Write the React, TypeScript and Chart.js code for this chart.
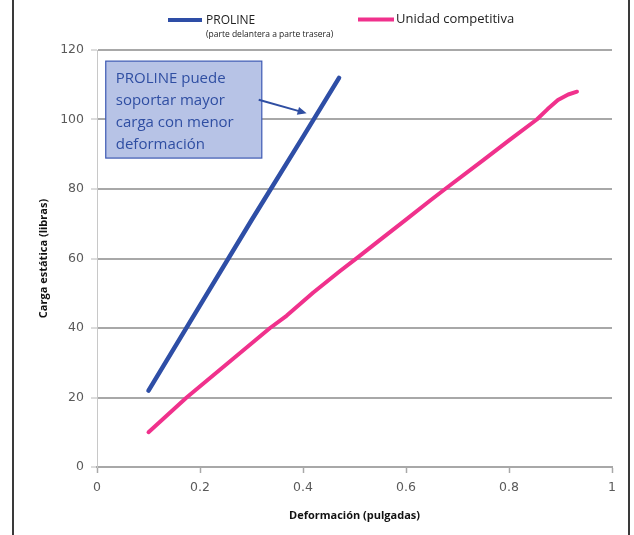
import React, { useEffect, useRef } from "react";
import { Chart, registerables } from "chart.js";

Chart.register(...registerables);

const prolineX = [0.1, 0.2, 0.3, 0.4, 0.47];
const prolineY = [22, 46.5, 71, 95, 112];

const competX = [0.1, 0.174, 0.255, 0.336, 0.368, 0.42, 0.472, 0.507, 0.549, 0.6, 0.647, 0.676, 0.75, 0.8, 0.854, 0.875, 0.895, 0.915, 0.932];
const competY = [10, 20, 30, 40, 43.5, 50.2, 56.4, 60.4, 65.3, 71.2, 76.7, 80, 88.3, 94, 100, 103, 105.6, 107.2, 108];

const xTickValues = [0, 0.2, 0.4, 0.6, 0.8, 1];
const seriesNames = ["PROLINE", "Unidad competitiva"];
const legendSub = "(parte delantera a parte trasera)";
const noteLines = ["PROLINE puede", "soportar mayor", "carga con menor", "deformación"];
const xTitle = "Deformación (pulgadas)";
const yTitle = "Carga estática (libras)";

const BLUE = "#2e4ea6";
const PINK = "#f0318c";
const GRID = "#a8a8a8";

const decor = {
  id: "decor",
  afterDraw(chart: any) {
    const ctx = chart.ctx;
    const xs = chart.scales.x;
    const ys = chart.scales.y;
    ctx.save();
    // frame lines
    ctx.strokeStyle = "#3a3a3a";
    ctx.lineWidth = 2;
    ctx.beginPath();
    ctx.moveTo(13, 0);
    ctx.lineTo(13, 535);
    ctx.moveTo(629, 0);
    ctx.lineTo(629, 535);
    ctx.stroke();

    // legend
    ctx.lineCap = "butt";
    ctx.lineWidth = 4;
    ctx.strokeStyle = BLUE;
    ctx.beginPath();
    ctx.moveTo(168, 20);
    ctx.lineTo(202, 20);
    ctx.stroke();
    ctx.strokeStyle = PINK;
    ctx.beginPath();
    ctx.moveTo(358, 19.5);
    ctx.lineTo(394, 19.5);
    ctx.stroke();
    ctx.fillStyle = "#222";
    ctx.textBaseline = "middle";
    ctx.textAlign = "left";
    ctx.font = "12px 'Open Sans', sans-serif";
    ctx.fillText(seriesNames[0], 206, 21);
    ctx.font = "8.5px 'Open Sans', sans-serif";
    ctx.fillText(legendSub, 206, 35);
    ctx.font = "13px 'Open Sans', sans-serif";
    ctx.fillText(seriesNames[1], 396, 19.5);

    // note box anchored in data units
    const bx0 = xs.getPixelForValue(0.017);
    const bx1 = xs.getPixelForValue(0.32);
    const by0 = ys.getPixelForValue(116.8);
    const by1 = ys.getPixelForValue(88.9);
    ctx.fillStyle = "#b7c3e6";
    ctx.fillRect(bx0, by0, bx1 - bx0, by1 - by0);
    ctx.strokeStyle = "#3d59b3";
    ctx.lineWidth = 1.2;
    ctx.strokeRect(bx0, by0, bx1 - bx0, by1 - by0);
    ctx.fillStyle = "#2f4ea2";
    ctx.font = "15px 'Open Sans', sans-serif";
    noteLines.forEach((t, i) => {
      ctx.fillText(t, bx0 + 10, by0 + 18 + i * 22);
    });

    // arrow
    const ax0 = xs.getPixelForValue(0.314);
    const ay0 = ys.getPixelForValue(105.7);
    const ax1 = xs.getPixelForValue(0.407);
    const ay1 = ys.getPixelForValue(101.8);
    const ang = Math.atan2(ay1 - ay0, ax1 - ax0);
    ctx.strokeStyle = "#2f4ea2";
    ctx.lineWidth = 2;
    ctx.beginPath();
    ctx.moveTo(ax0, ay0);
    ctx.lineTo(ax1 - 6 * Math.cos(ang), ay1 - 6 * Math.sin(ang));
    ctx.stroke();
    ctx.fillStyle = "#2f4ea2";
    ctx.beginPath();
    ctx.moveTo(ax1, ay1);
    ctx.lineTo(ax1 - 9 * Math.cos(ang) + 4 * Math.sin(ang), ay1 - 9 * Math.sin(ang) - 4 * Math.cos(ang));
    ctx.lineTo(ax1 - 9 * Math.cos(ang) - 4 * Math.sin(ang), ay1 - 9 * Math.sin(ang) + 4 * Math.cos(ang));
    ctx.closePath();
    ctx.fill();
    ctx.restore();
  },
};

export default function App() {
  const ref = useRef<HTMLCanvasElement>(null);
  useEffect(() => {
    const toPts = (xs: number[], ys: number[]) => xs.map((x, i) => ({ x, y: ys[i] }));
    const chart = new Chart(ref.current!, {
      type: "scatter",
      data: {
        datasets: [
          {
            label: seriesNames[0],
            data: toPts(prolineX, prolineY),
            showLine: true,
            borderColor: BLUE,
            backgroundColor: BLUE,
            borderWidth: 4.5,
            pointRadius: 0,
            tension: 0,
            borderCapStyle: "round",
          },
          {
            label: seriesNames[1],
            data: toPts(competX, competY),
            showLine: true,
            borderColor: PINK,
            backgroundColor: PINK,
            borderWidth: 4,
            pointRadius: 0,
            tension: 0,
            borderCapStyle: "round",
            borderJoinStyle: "round",
          },
        ],
      },
      options: {
        animation: false,
        responsive: false,
        devicePixelRatio: 1,
        layout: { padding: { left: 0, right: 22, top: 50, bottom: 0 } },
        plugins: { legend: { display: false }, tooltip: { enabled: false } },
        scales: {
          x: {
            type: "linear",
            min: 0,
            max: 1,
            afterFit: (s: any) => {
              s.height = 68;
            },
            afterBuildTicks: (s: any) => {
              s.ticks = xTickValues.map((v) => ({ value: v }));
            },
            ticks: {
              color: "#5a5a5a",
              font: { family: "'DejaVu Sans', sans-serif", size: 12.5 },
              padding: 7,
              callback: (v: any) => String(Math.round(Number(v) * 10) / 10),
            },
            grid: {
              drawOnChartArea: false,
              drawTicks: true,
              tickLength: 6,
              tickColor: GRID,
              tickWidth: 1.5,
            },
            border: { display: true, color: GRID, width: 2 },
            title: {
              display: true,
              text: xTitle,
              color: "#111",
              font: { family: "'Open Sans', sans-serif", size: 11, weight: "bold" },
              padding: { top: 0, bottom: 12.4 },
            },
          },
          y: {
            type: "linear",
            min: 0,
            max: 120,
            afterFit: (s: any) => {
              s.width = 97;
            },
            ticks: {
              stepSize: 20,
              color: "#5a5a5a",
              font: { family: "'DejaVu Sans', sans-serif", size: 12.5 },
              padding: 7,
            },
            grid: {
              color: GRID,
              lineWidth: 2,
              drawTicks: true,
              tickLength: 6,
              tickColor: "#b8b8b8",
              tickWidth: 1,
            },
            border: { display: true, color: "#c8c8c8", width: 1 },
            title: {
              display: true,
              text: yTitle,
              color: "#111",
              font: { family: "'Open Sans', sans-serif", size: 11, weight: "bold" },
              padding: { top: 37.4, bottom: 0 },
            },
          },
        },
      },
      plugins: [decor],
    } as any);
    return () => chart.destroy();
  }, []);
  return (
    <div style={{ position: "fixed", left: 0, top: 0, width: 634, height: 535, background: "#fff" }}>
      <canvas ref={ref} width={634} height={535} style={{ width: 634, height: 535, display: "block" }} />
    </div>
  );
}
